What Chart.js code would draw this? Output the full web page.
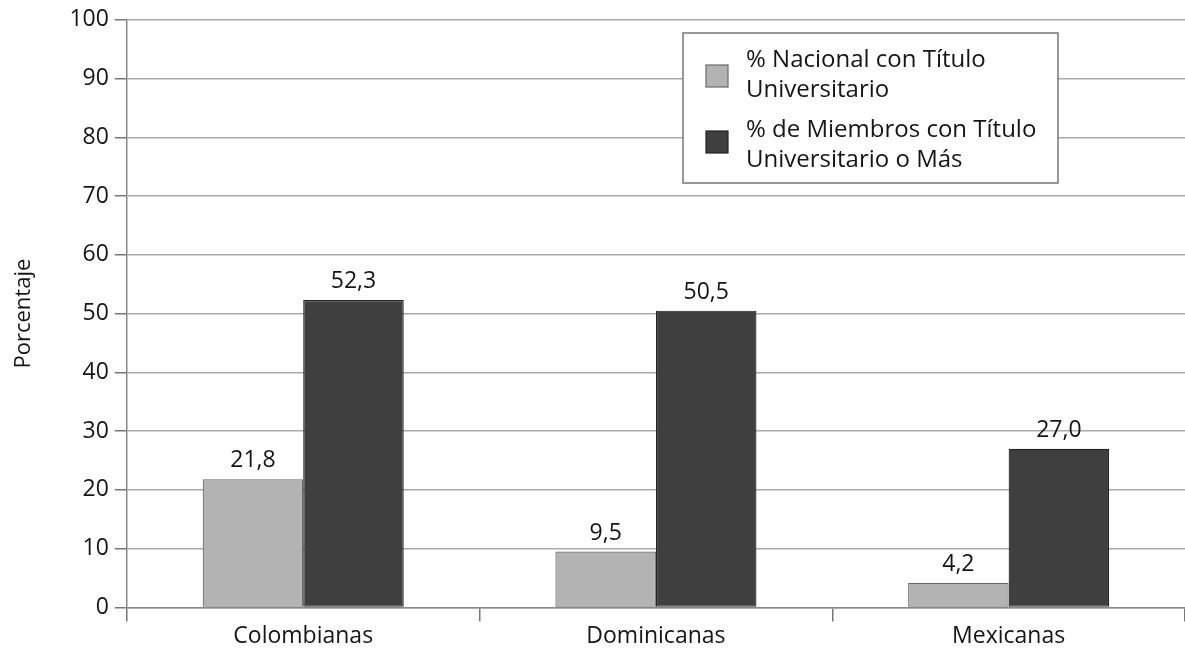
<!DOCTYPE html>
<html>
<head>
<meta charset="utf-8">
<script src="https://cdn.jsdelivr.net/npm/chart.js@4.4.1/dist/chart.umd.min.js"></script>
<style>
html,body{margin:0;padding:0;background:#fff;}
#wrap{position:relative;width:1185px;height:654px;}
</style>
</head>
<body>
<div id="wrap"><canvas id="c" width="1185" height="654"></canvas></div>
<script>
const categories = ["Colombianas", "Dominicanas", "Mexicanas"];
const nacional = [21.8, 9.5, 4.2];
const miembros = [52.3, 50.5, 27.0];
const legendLines = [
  ["% Nacional con Título", "Universitario"],
  ["% de Miembros con Título", "Universitario o Más"]
];
const yTicks = [0, 10, 20, 30, 40, 50, 60, 70, 80, 90, 100];
const yTitle = "Porcentaje";

const FONT = "'Open Sans', sans-serif";
const TXT = "#151515";

const valueLabels = {
  id: 'valueLabels',
  afterDatasetsDraw(chart) {
    const ctx = chart.ctx;
    ctx.save();
    ctx.font = "23px " + FONT;
    ctx.fillStyle = TXT;
    ctx.textAlign = 'center';
    ctx.textBaseline = 'alphabetic';
    chart.data.datasets.forEach((ds, di) => {
      const meta = chart.getDatasetMeta(di);
      meta.data.forEach((el, i) => {
        const txt = ds.data[i].toFixed(1).replace('.', ',');
        ctx.fillText(txt, el.x, el.y - 12);
      });
    });
    ctx.restore();
  }
};

const boxLegend = {
  id: 'boxLegend',
  afterDraw(chart) {
    const ctx = chart.ctx;
    ctx.save();
    const bx = 683, by = 33, bw = 375, bh = 150;
    ctx.fillStyle = '#fff';
    ctx.fillRect(bx, by, bw, bh);
    ctx.strokeStyle = '#777';
    ctx.lineWidth = 1.5;
    ctx.strokeRect(bx, by, bw, bh);
    ctx.font = "24px " + FONT;
    ctx.textBaseline = 'middle';
    ctx.textAlign = 'left';
    const rows = [{sy: 65, ty: [60, 90]}, {sy: 131, ty: [130, 160]}];
    chart.data.datasets.forEach((ds, di) => {
      const r = rows[di];
      ctx.fillStyle = ds.backgroundColor;
      ctx.fillRect(706, r.sy, 22, 22);
      ctx.strokeStyle = ds.borderColor;
      ctx.lineWidth = 1.2;
      ctx.strokeRect(706, r.sy, 22, 22);
      ctx.fillStyle = TXT;
      legendLines[di].forEach((ln, k) => ctx.fillText(ln, 746, r.ty[k]));
    });
    ctx.restore();
  }
};

new Chart(document.getElementById('c'), {
  type: 'bar',
  data: {
    labels: categories,
    datasets: [
      { label: legendLines[0].join(' '), data: nacional, backgroundColor: '#b3b3b3', borderColor: '#6a6a6a', borderWidth: 1.2, borderSkipped: false },
      { label: legendLines[1].join(' '), data: miembros, backgroundColor: '#3f3f3f', borderColor: '#222', borderWidth: 1.2, borderSkipped: false }
    ]
  },
  options: {
    responsive: false,
    animation: false,
    devicePixelRatio: 1,
    layout: { padding: { top: 17, right: 0, left: 7, bottom: 3 } },
    datasets: { bar: { categoryPercentage: 0.57, barPercentage: 1.0 } },
    plugins: {
      legend: { display: false },
      tooltip: { enabled: false }
    },
    scales: {
      x: {
        grid: { display: true, drawOnChartArea: false, drawTicks: true, tickLength: 14, color: '#777', lineWidth: 1.5, offset: true },
        border: { display: true, color: '#888', width: 1.5 },
        ticks: { color: TXT, font: { family: FONT, size: 23 }, maxRotation: 0, padding: 1 }
      },
      y: {
        min: 0, max: 100,
        afterBuildTicks(scale) { scale.ticks = yTicks.map(v => ({ value: v })); },
        grid: { color: '#aaa', lineWidth: 1.5, tickLength: 12, tickColor: '#777' },
        border: { display: true, color: '#888', width: 1.5 },
        ticks: { color: TXT, font: { family: FONT, size: 23 }, padding: 6 },
        title: { display: true, text: yTitle, color: TXT, font: { family: FONT, size: 22 }, padding: { top: 4, bottom: 26 } }
      }
    }
  },
  plugins: [valueLabels, boxLegend]
});
</script>
</body>
</html>
